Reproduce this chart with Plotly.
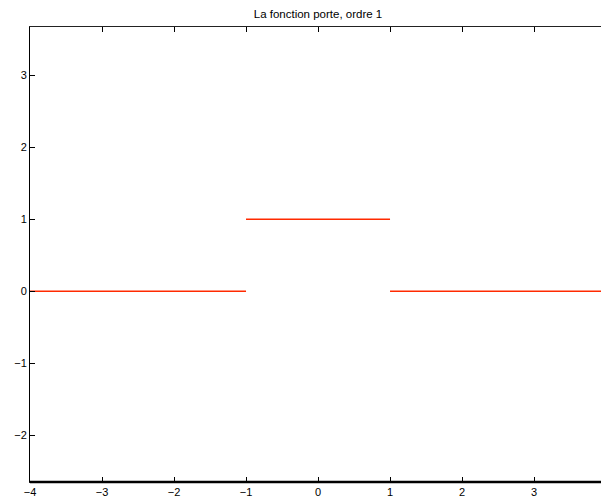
import plotly.graph_objects as go

# Gate function (fonction porte) order 1, segments separated by gaps
seg_x = [[-4, -1], [-1, 1], [1, 3.93]]
seg_y = [[0, 0], [1, 1], [0, 0]]

x_ticks = [-4, -3, -2, -1, 0, 1, 2, 3]
y_ticks = [-2, -1, 0, 1, 2, 3]

xs, ys = [], []
for sx, sy in zip(seg_x, seg_y):
    xs += sx + [None]
    ys += sy + [None]

fig = go.Figure()
fig.add_trace(go.Scatter(x=xs, y=ys, mode="lines",
                         line=dict(color="#ff2a00", width=1.5),
                         connectgaps=False, showlegend=False))

font = dict(family="Liberation Sans, Arial, Helvetica, sans-serif", size=11, color="#000")

fig.update_layout(
    width=601, height=503,
    margin=dict(l=30, r=0, t=27, b=21),
    paper_bgcolor="white", plot_bgcolor="white",
    font=font,
    title=dict(text="La fonction porte, ordre 1", x=318/601, xanchor="center",
               y=1 - 14/503, yanchor="middle", yref="container", xref="container",
               font=dict(family=font["family"], size=11.5, color="#000")),
    xaxis=dict(range=[-4, 3.93], tickvals=x_ticks, ticks="inside", ticklen=5,
               tickcolor="#000", tickwidth=1, showline=True, linecolor="#222",
               linewidth=1, mirror="ticks", showgrid=False, zeroline=False,
               tickfont=font),
    yaxis=dict(range=[-2.65, 3.67], tickvals=y_ticks, ticks="inside", ticklen=5,
               tickcolor="#000", tickwidth=1, showline=True, linecolor="#000",
               linewidth=1, mirror=False, showgrid=False, zeroline=False,
               tickfont=font),
)

fig.add_shape(type="line", xref="paper", yref="paper", x0=0, x1=1, y0=0, y1=0,
              line=dict(color="#000", width=2.5))

fig.write_html("out.html")
